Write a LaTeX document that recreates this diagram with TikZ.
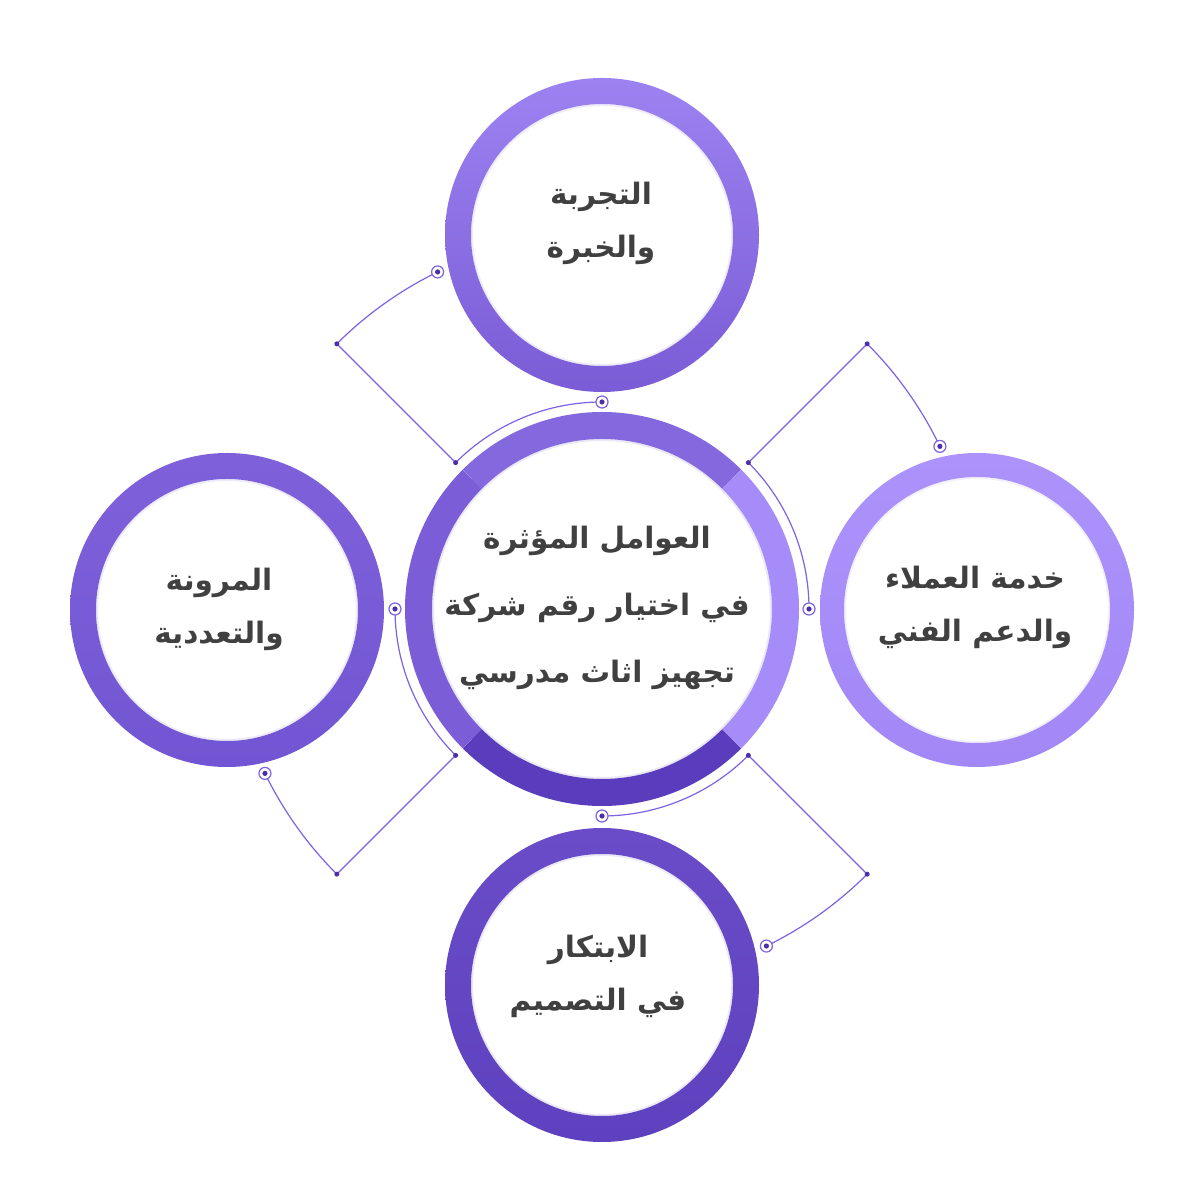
\documentclass[tikz,border=0pt]{standalone}
\usepackage{fontspec}
\newfontfamily\arabicfont[Script=Arabic]{DejaVu Sans}
\TeXXeTstate=1
\newcommand\artx[1]{\beginR #1\endR}
\definecolor{txtgray}{HTML}{404040}
\definecolor{lnpurple}{HTML}{7E62E3}
\definecolor{dotpurple}{HTML}{4A2FA8}
\definecolor{topA}{HTML}{9C82F1}
\definecolor{topB}{HTML}{7A5CD6}
\definecolor{rightA}{HTML}{AC93FB}
\definecolor{rightB}{HTML}{A287F6}
\definecolor{leftA}{HTML}{7E61DA}
\definecolor{leftB}{HTML}{7255D2}
\definecolor{botA}{HTML}{6A4CC8}
\definecolor{botB}{HTML}{5E41BE}
\definecolor{segtop}{HTML}{8468DE}
\definecolor{segright}{HTML}{A68CF8}
\definecolor{segbot}{HTML}{5A3DBD}
\definecolor{segleft}{HTML}{7A5DD7}
\begin{document}
\begin{tikzpicture}[x=1pt,y=1pt,
  lbl/.style={font=\arabicfont\bfseries\fontsize{29.5}{53}\selectfont, text=txtgray, align=center, inner sep=0pt},
  clbl/.style={font=\arabicfont\bfseries\fontsize{29.5}{67}\selectfont, text=txtgray, align=center, inner sep=0pt},
  conn/.style={draw=lnpurple, line width=1.2pt},
  endpt/.style={circle, draw=lnpurple, line width=1.2pt, fill=white, minimum size=12pt, inner sep=0pt,
     path picture={\fill[dotpurple] (path picture bounding box.center) circle (2.6pt);}},
  cornerdot/.style={circle, fill=dotpurple, minimum size=5pt, inner sep=0pt},
  glow/.style={line width=2pt, draw=#1, opacity=0.12}
]
\useasboundingbox (0,0) rectangle (1200,1200);
\fill[white] (0,0) rectangle (1200,1200);

% centres
\coordinate (C) at (602,591);
\coordinate (T) at (602,965);
\coordinate (R) at (977,590);
\coordinate (L) at (227,590);
\coordinate (B) at (602,215);

% satellite rings
\shade[even odd rule, top color=topA, bottom color=topB] (T) circle (157) (T) circle (131);
\shade[even odd rule, top color=rightA, bottom color=rightB] (R) circle (157) (R) circle (133);
\shade[even odd rule, top color=leftA, bottom color=leftB] (L) circle (157) (L) circle (131);
\shade[even odd rule, top color=botA, bottom color=botB] (B) circle (157) (B) circle (131);
\draw[glow=topB] (T) circle (130);
\draw[glow=rightB] (R) circle (132);
\draw[glow=leftB] (L) circle (130);
\draw[glow=botB] (B) circle (130);

% central ring segments
\draw[line width=27pt, segtop] (C) ++(45:183.5) arc[start angle=45, end angle=135, radius=183.5];
\draw[line width=27pt, segleft] (C) ++(135:183.5) arc[start angle=135, end angle=225, radius=183.5];
\draw[line width=27pt, segbot] (C) ++(225:183.5) arc[start angle=225, end angle=315, radius=183.5];
\draw[line width=27pt, segright] (C) ++(315:183.5) arc[start angle=315, end angle=405, radius=183.5];
\draw[glow=segbot] (C) circle (169);

% connector coordinates
\path (C) ++(90:207) coordinate (i1) (C) ++(135:207) coordinate (a1) (C) ++(135:375) coordinate (k1) (C) ++(116:375) coordinate (o1);
\path (C) ++(0:207) coordinate (i2) (C) ++(45:207) coordinate (a2) (C) ++(45:375) coordinate (k2) (C) ++(25.7:375) coordinate (o2);
\path (C) ++(180:207) coordinate (i3) (C) ++(225:207) coordinate (a3) (C) ++(225:375) coordinate (k3) (C) ++(206:375) coordinate (o3);
\path (C) ++(270:207) coordinate (i4) (C) ++(315:207) coordinate (a4) (C) ++(315:375) coordinate (k4) (C) ++(296:375) coordinate (o4);

\draw[conn] (i1) arc[start angle=90, end angle=135, radius=207] -- (k1) arc[start angle=135, end angle=116, radius=375];
\draw[conn] (i2) arc[start angle=0, end angle=45, radius=207] -- (k2) arc[start angle=45, end angle=25.7, radius=375];
\draw[conn] (i3) arc[start angle=180, end angle=225, radius=207] -- (k3) arc[start angle=225, end angle=206, radius=375];
\draw[conn] (i4) arc[start angle=270, end angle=315, radius=207] -- (k4) arc[start angle=315, end angle=296, radius=375];

\foreach \n in {1,2,3,4}{
  \node[endpt] (ei\n) at (i\n) {};
  \node[endpt] (eo\n) at (o\n) {};
  \node[cornerdot] (da\n) at (a\n) {};
  \node[cornerdot] (dk\n) at (k\n) {};
}

% labels
\node[lbl] (ttop) at (601,977) {\artx{التجربة}\\\artx{والخبرة}};
\node[lbl] (tright) at (975,593) {\artx{خدمة العملاء}\\\artx{والدعم الفني}};
\node[lbl] (tleft) at (219,591) {\artx{المرونة}\\\artx{والتعددية}};
\node[lbl] (tbot) at (598,224) {\artx{الابتكار}\\\artx{في التصميم}};
\node[clbl] (tcen) at (597,592) {\artx{العوامل المؤثرة}\\\artx{في اختيار رقم شركة}\\\artx{تجهيز اثاث مدرسي}};
\end{tikzpicture}
\end{document}
